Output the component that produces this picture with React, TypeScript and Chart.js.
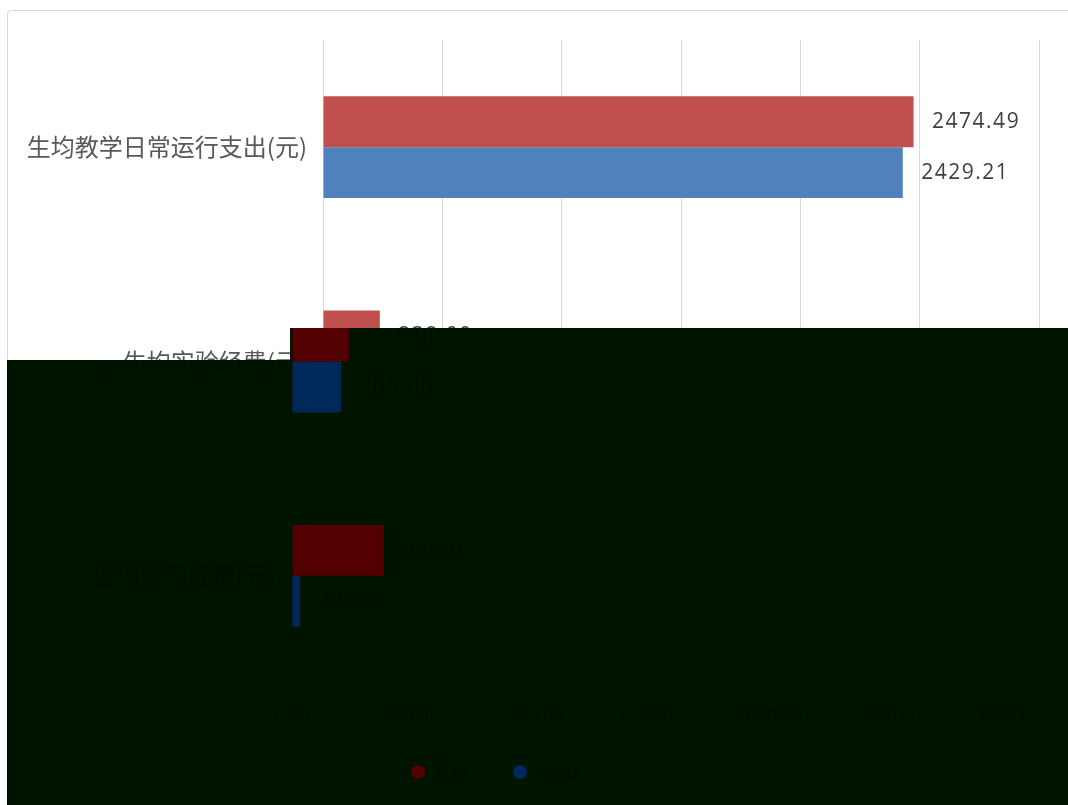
import React, { useEffect, useRef } from "react";
import { Chart, registerables } from "chart.js";

Chart.register(...registerables);

// Only the first category is fully legible; the others are inferred from label width and visible glyphs.
const categories = ["生均教学日常运行支出(元)", "生均实验经费(元)", "生均实习经费(元)"];
// Series names are not legible in the reference.
const seriesNames = ["系列1", "系列2"];
// First-row values are printed; the others are estimated from bar lengths.
const redValues = [2474.49, 238.0, 385.0];
const blueValues = [2429.21, 205.0, 33.0];
const tickMax = 3000;
const tickStep = 500;

type Palette = {
  red: string; blue: string; grid: string; axisText: string; valueText: string; legendText: string;
};
const lightPalette: Palette = {
  red: "#c0504d", blue: "#4f81bd", grid: "#d9d9d9", axisText: "#595959", valueText: "#404040", legendText: "#595959",
};
const darkPalette: Palette = {
  red: "#520000", blue: "#00285a", grid: "#001000", axisText: "#000e00", valueText: "#000e00", legendText: "#000e00",
};

const valueLabels = (color: string) => ({
  id: "valueLabels",
  afterLayout(chart: any) {
    chart.legend.left += 8;
    chart.legend.right += 8;
  },
  afterDatasetsDraw(chart: any) {
    const { ctx } = chart;
    ctx.save();
    ctx.font = "21px 'Open Sans', sans-serif";
    ctx.letterSpacing = "1.5px";
    ctx.fillStyle = color;
    ctx.textAlign = "left";
    ctx.textBaseline = "middle";
    chart.data.datasets.forEach((ds: any, di: number) => {
      chart.getDatasetMeta(di).data.forEach((bar: any, i: number) => {
        ctx.fillText(ds.data[i].toFixed(2), bar.x + 18.5, bar.y);
      });
    });
    ctx.restore();
  },
});

function build(canvas: HTMLCanvasElement, p: Palette) {
  return new Chart(canvas, {
    type: "bar",
    data: {
      labels: categories,
      datasets: [
        { label: seriesNames[0], data: redValues, backgroundColor: p.red },
        { label: seriesNames[1], data: blueValues, backgroundColor: p.blue },
      ],
    },
    plugins: [valueLabels(p.valueText)],
    options: {
      indexAxis: "y",
      responsive: false,
      animation: false,
      events: [],
      devicePixelRatio: 1,
      layout: { padding: { top: 40, right: 29, left: 0, bottom: 14 } },
      datasets: { bar: { categoryPercentage: 0.475, barPercentage: 1 } },
      plugins: {
        title: { display: false },
        tooltip: { enabled: false },
        legend: {
          display: true,
          position: "bottom",
          labels: {
            usePointStyle: true,
            pointStyle: "circle",
            boxWidth: 10,
            boxHeight: 10,
            padding: 37,
            color: p.legendText,
            font: { size: 18, family: "'Noto Sans CJK SC', sans-serif" },
          },
        },
      },
      scales: {
        x: {
          min: 0,
          max: tickMax,
          ticks: {
            stepSize: tickStep,
            color: p.axisText,
            padding: 22,
            font: { size: 18, family: "'Open Sans', sans-serif" },
            callback: (v: any) => Number(v).toFixed(2),
            maxRotation: 0,
          },
          grid: { color: p.grid, drawTicks: false },
          border: { display: false },
          afterFit: (s: any) => { s.height = 43; s.paddingLeft = 0; s.paddingRight = 0; },
        },
        y: {
          ticks: {
            color: p.axisText,
            padding: 16,
            font: { size: 24, family: "'Noto Sans CJK SC', sans-serif" },
          },
          grid: { display: false, drawTicks: false },
          border: { display: false },
          afterFit: (s: any) => { s.width = 323; },
        },
      },
    } as any,
  });
}

export default function App() {
  const lightRef = useRef<HTMLCanvasElement>(null);
  const darkRef = useRef<HTMLCanvasElement>(null);
  useEffect(() => {
    const a = build(lightRef.current!, lightPalette);
    const b = build(darkRef.current!, darkPalette);
    return () => { a.destroy(); b.destroy(); };
  }, []);
  return (
    <div style={{ position: "absolute", left: 0, top: 0, width: 1068, height: 805, background: "#fff", overflow: "hidden" }}>
      <div style={{ position: "absolute", left: 7, top: 10, width: 1100, height: 900, border: "1px solid #d9d9d9", borderRadius: 4, boxSizing: "border-box" }} />
      <canvas ref={lightRef} width={1068} height={805} style={{ position: "absolute", left: 0, top: 0 }} />
      <div style={{
        position: "absolute", left: 0, top: 0, width: 1068, height: 805, background: "#001400", overflow: "hidden",
        clipPath: "polygon(290px 328px, 1068px 328px, 1068px 805px, 7px 805px, 7px 360px, 290px 360px)",
      }}>
        <canvas ref={darkRef} width={1068} height={805} style={{ position: "absolute", left: -31, top: 0 }} />
      </div>
    </div>
  );
}
